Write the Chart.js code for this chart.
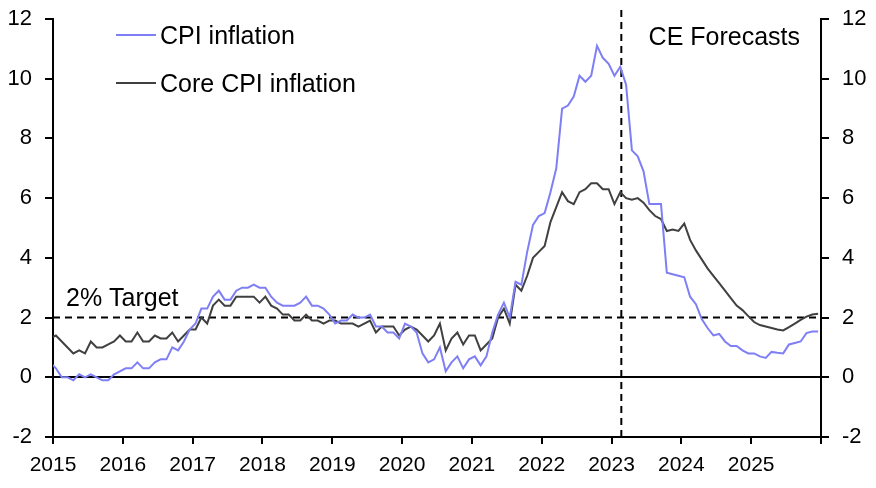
<!DOCTYPE html>
<html>
<head>
<meta charset="utf-8">
<script src="https://cdn.jsdelivr.net/npm/chart.js@4.4.1/dist/chart.umd.min.js"></script>
<style>
  body { margin: 0; background: #fff; }
</style>
</head>
<body>
<canvas id="chart" width="876" height="488"></canvas>
<script>
// Monthly y/y rates, Dec 2014 .. Dec 2025 (actuals to Feb 2023, CE forecasts after)
const startYear = 2014;
const startMonth = 11; // Dec, 0-based

const cpi = [
  0.5,
  0.3, 0.0, 0.0, -0.1, 0.1, 0.0, 0.1, 0.0, -0.1, -0.1, 0.1, 0.2,
  0.3, 0.3, 0.5, 0.3, 0.3, 0.5, 0.6, 0.6, 1.0, 0.9, 1.2, 1.6,
  1.8, 2.3, 2.3, 2.7, 2.9, 2.6, 2.6, 2.9, 3.0, 3.0, 3.1, 3.0,
  3.0, 2.7, 2.5, 2.4, 2.4, 2.4, 2.5, 2.7, 2.4, 2.4, 2.3, 2.1,
  1.8, 1.9, 1.9, 2.1, 2.0, 2.0, 2.1, 1.7, 1.7, 1.5, 1.5, 1.3,
  1.8, 1.7, 1.5, 0.8, 0.5, 0.6, 1.0, 0.2, 0.5, 0.7, 0.3, 0.6,
  0.7, 0.4, 0.7, 1.5, 2.1, 2.5, 2.0, 3.2, 3.1, 4.2, 5.1, 5.4,
  5.5, 6.2, 7.0, 9.0, 9.1, 9.4, 10.1, 9.9, 10.1, 11.1, 10.7, 10.5,
  10.1, 10.4, 9.8, 7.6, 7.4, 6.9, 5.8, 5.8, 5.8, 3.5, 3.45, 3.4,
  3.35, 2.7, 2.45, 1.95, 1.65, 1.4, 1.45, 1.2, 1.05, 1.05, 0.9, 0.8,
  0.8, 0.7, 0.65, 0.85, 0.82, 0.8, 1.1, 1.15, 1.2, 1.48, 1.53, 1.53
];

const core = [
  1.3,
  1.4, 1.2, 1.0, 0.8, 0.9, 0.8, 1.2, 1.0, 1.0, 1.1, 1.2, 1.4,
  1.2, 1.2, 1.5, 1.2, 1.2, 1.4, 1.3, 1.3, 1.5, 1.2, 1.4, 1.6,
  1.6, 2.0, 1.8, 2.4, 2.6, 2.4, 2.4, 2.7, 2.7, 2.7, 2.7, 2.5,
  2.7, 2.4, 2.3, 2.1, 2.1, 1.9, 1.9, 2.1, 1.9, 1.9, 1.8, 1.9,
  1.9, 1.8, 1.8, 1.8, 1.7, 1.8, 1.9, 1.5, 1.7, 1.7, 1.7, 1.4,
  1.6, 1.7, 1.6, 1.4, 1.2, 1.4, 1.8, 0.9, 1.3, 1.5, 1.1, 1.4,
  1.4, 0.9, 1.1, 1.3, 2.0, 2.3, 1.8, 3.1, 2.9, 3.4, 4.0, 4.2,
  4.4, 5.2, 5.7, 6.2, 5.9, 5.8, 6.2, 6.3, 6.5, 6.5, 6.3, 6.3,
  5.8, 6.2, 6.0, 5.95, 6.0, 5.85, 5.6, 5.4, 5.3, 4.9, 4.95, 4.9,
  5.15, 4.6, 4.25, 3.95, 3.65, 3.4, 3.15, 2.9, 2.65, 2.4, 2.25, 2.05,
  1.85, 1.75, 1.7, 1.65, 1.6, 1.57, 1.68, 1.8, 1.92, 2.03, 2.1, 2.13
];

const yearLabels = [2015, 2016, 2017, 2018, 2019, 2020, 2021, 2022, 2023, 2024, 2025];
const xMin = 2015, xMax = 2026;
const yMin = -2, yMax = 12, yStep = 2;
const target = 2;
const forecastStart = 2023.14; // between Feb and Mar 2023
const forecastTop = 12.45;

const cpiColour = '#7f7ff5';
const coreColour = '#404040';
const fontFamily = '"Liberation Sans", Arial, sans-serif';

// month mid-points on a year scale
const xs = cpi.map((_, i) => startYear + (startMonth + i + 0.5) / 12);
const toPoints = vals => vals.map((v, i) => ({ x: xs[i], y: v }));

const legendItems = [
  { text: 'CPI inflation', colour: cpiColour },
  { text: 'Core CPI inflation', colour: coreColour }
];

// legend + text labels drawn on top
const overlay = {
  id: 'overlay',
  afterDatasetsDraw(chart) {
    const c = chart.ctx;
    const area = chart.chartArea;
    const ys = chart.scales.y;
    c.save();
    c.font = '25px ' + fontFamily;
    c.fillStyle = '#000';
    c.textBaseline = 'alphabetic';
    c.lineWidth = 2;
    legendItems.forEach((it, k) => {
      const ly = 35 + k * 48;
      c.strokeStyle = it.colour;
      c.beginPath();
      c.moveTo(116, ly);
      c.lineTo(156, ly);
      c.stroke();
      c.fillText(it.text, 160, ly + 9);
    });
    c.fillText('2% Target', area.left + 13, ys.getPixelForValue(target) - 12);
    c.textAlign = 'right';
    c.fillText('CE Forecasts', area.right - 21, 45);
    c.restore();
  }
};

// fixed axis sizes so the plot area matches the original
const fitY = w => s => { s.width = w; s.paddingTop = 0; s.paddingBottom = 0; };

const yTickOpts = {
  stepSize: yStep,
  color: '#000',
  padding: 13,
  font: { family: fontFamily, size: 22 }
};

new Chart(document.getElementById('chart'), {
  type: 'line',
  data: {
    datasets: [
      { label: 'CPI inflation', data: toPoints(cpi), borderColor: cpiColour, borderWidth: 2, pointRadius: 0, tension: 0 },
      { label: 'Core CPI inflation', data: toPoints(core), borderColor: coreColour, borderWidth: 2, pointRadius: 0, tension: 0 },
      { label: 'Target', data: [{ x: xMin, y: target }, { x: xMax, y: target }], borderColor: '#000', borderWidth: 2, borderDash: [7, 5], pointRadius: 0 },
      { label: 'Forecast', data: [{ x: forecastStart, y: yMin }, { x: forecastStart, y: forecastTop }], borderColor: '#000', borderWidth: 2, borderDash: [7, 5], pointRadius: 0, clip: false }
    ]
  },
  options: {
    responsive: false,
    animation: false,
    devicePixelRatio: 1,
    layout: { padding: { top: 19, left: 0, right: 0, bottom: 0 } },
    plugins: { legend: { display: false }, tooltip: { enabled: false } },
    scales: {
      x: {
        type: 'linear',
        min: xMin,
        max: xMax,
        afterBuildTicks: axis => {
          axis.ticks = yearLabels.concat([xMax]).map(v => ({ value: v }));
        },
        ticks: {
          autoSkip: false,
          maxRotation: 0,
          color: '#000',
          padding: 9,
          font: { family: fontFamily, size: 21 },
          callback: v => (v < xMax ? String(v) : '')
        },
        grid: { drawOnChartArea: false, tickLength: 7, tickColor: '#000', lineWidth: 2 },
        border: { color: '#000', width: 2 },
        afterFit: s => { s.height = 51; s.paddingLeft = 0; s.paddingRight = 0; }
      },
      y: {
        min: yMin,
        max: yMax,
        ticks: yTickOpts,
        grid: {
          color: ctx => (ctx.tick && ctx.tick.value === 0 ? '#000' : 'rgba(0,0,0,0)'),
          tickColor: '#000',
          lineWidth: 2,
          tickLength: 8
        },
        border: { color: '#000', width: 2 },
        afterFit: fitY(53)
      },
      y2: {
        position: 'right',
        min: yMin,
        max: yMax,
        ticks: yTickOpts,
        grid: { drawOnChartArea: false, tickColor: '#000', lineWidth: 2, tickLength: 8 },
        border: { color: '#000', width: 2 },
        afterFit: fitY(55)
      }
    }
  },
  plugins: [overlay]
});
</script>
</body>
</html>
